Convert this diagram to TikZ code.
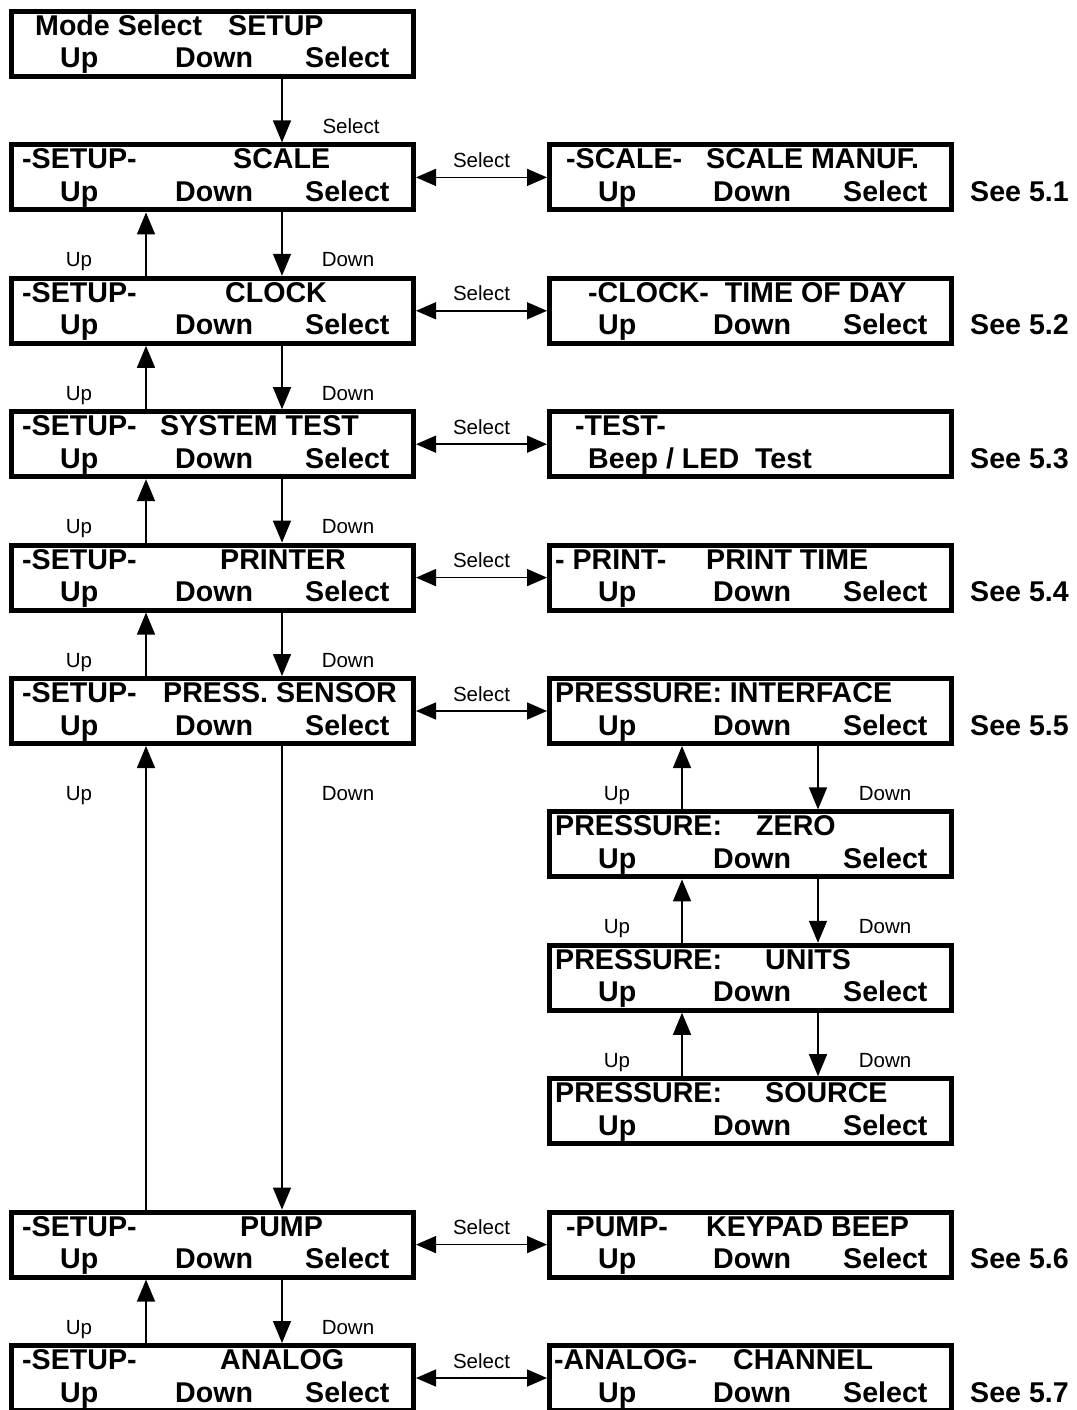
\documentclass[tikz,border=0pt]{standalone}
\usepackage{fontspec}
\setmainfont{Liberation Sans}
\usetikzlibrary{arrows.meta,calc}
\newcommand{\lcdfont}{\fontsize{28.6}{30}\selectfont\bfseries}
\newcommand{\tagfont}{\fontsize{20.5}{22}\selectfont}

\begin{document}
\begin{tikzpicture}[x=1pt, y=-1pt,
    lcd/.style={draw, line width=5pt, minimum width=402pt, minimum height=65pt, inner sep=0pt, anchor=north west},
    txt/.style={font=\lcdfont, inner sep=0pt, anchor=base west},
    tag/.style={font=\tagfont, inner sep=0pt, anchor=base},
    move/.style={line width=1.5pt, -{Triangle[length=22pt,width=18pt]}},
    swap/.style={line width=1.5pt, {Triangle[length=20pt,width=17pt]}-{Triangle[length=20pt,width=17pt]}},
]
    \useasboundingbox (0,0) rectangle (1076,1410);
    % Left column
    \foreach \n/\k in {mode/0,scale/1,clock/2,test/3,printer/4,press/5,pump/9,analog/10}
        \node[lcd] (\n) at (9,{9+133.4*\k}) {};
    % Right column
    \foreach \n/\k in {manuf/1,tod/2,beep/3,ptime/4,iface/5,zero/6,units/7,source/8,keypad/9,channel/10}
        \node[lcd] (\n) at (547,{9+133.4*\k}) {};
    % Key lines
    \foreach \n in {mode,scale,clock,test,printer,press,pump,analog,manuf,tod,ptime,iface,zero,units,source,keypad,channel} {
        \node[txt] (\n-up) at ($(\n.north west)+(51,59)$) {Up};
        \node[txt] (\n-dn) at ($(\n.north west)+(166,59)$) {Down};
        \node[txt] (\n-sel) at ($(\n.north west)+(296,59)$) {Select};
    }
    % Title lines, left
    \node[txt] (mode-a) at ($(mode.north west)+(26,26.5)$) {Mode Select};
    \node[txt] (mode-b) at ($(mode.north west)+(219,26.5)$) {SETUP};
    \foreach \n in {scale,clock,test,printer,press,pump,analog}
        \node[txt] (\n-a) at ($(\n.north west)+(13,26.5)$) {-SETUP-};
    \node[txt] (scale-b) at ($(scale.north west)+(224,26.5)$) {SCALE};
    \node[txt] (clock-b) at ($(clock.north west)+(216,26.5)$) {CLOCK};
    \node[txt] (test-b) at ($(test.north west)+(151,26.5)$) {SYSTEM TEST};
    \node[txt] (printer-b) at ($(printer.north west)+(211,26.5)$) {PRINTER};
    \node[txt] (press-b) at ($(press.north west)+(154,26.5)$) {PRESS. SENSOR};
    \node[txt] (pump-b) at ($(pump.north west)+(231,26.5)$) {PUMP};
    \node[txt] (analog-b) at ($(analog.north west)+(211,26.5)$) {ANALOG};
    % Title lines, right
    \node[txt] (manuf-a) at ($(manuf.north west)+(19,26.5)$) {-SCALE-};
    \node[txt] (manuf-b) at ($(manuf.north west)+(159,26.5)$) {SCALE MANUF.};
    \node[txt] (tod-a) at ($(tod.north west)+(41,26.5)$) {-CLOCK-~ TIME OF DAY};
    \node[txt] (beep-a) at ($(beep.north west)+(28,26.5)$) {-TEST-};
    \node[txt] (beep-b) at ($(beep.north west)+(41,59)$) {Beep / LED~ Test};
    \node[txt] (ptime-a) at ($(ptime.north west)+(8,26.5)$) {- PRINT-};
    \node[txt] (ptime-b) at ($(ptime.north west)+(159,26.5)$) {PRINT TIME};
    \node[txt] (iface-a) at ($(iface.north west)+(8,26.5)$) {PRESSURE: INTERFACE};
    \foreach \n in {zero,units,source}
        \node[txt] (\n-a) at ($(\n.north west)+(8,26.5)$) {PRESSURE:};
    \node[txt] (zero-b) at ($(zero.north west)+(209,26.5)$) {ZERO};
    \node[txt] (units-b) at ($(units.north west)+(218,26.5)$) {UNITS};
    \node[txt] (source-b) at ($(source.north west)+(218,26.5)$) {SOURCE};
    \node[txt] (keypad-a) at ($(keypad.north west)+(19,26.5)$) {-PUMP-};
    \node[txt] (keypad-b) at ($(keypad.north west)+(159,26.5)$) {KEYPAD BEEP};
    \node[txt] (channel-a) at ($(channel.north west)+(7,26.5)$) {-ANALOG-};
    \node[txt] (channel-b) at ($(channel.north west)+(186,26.5)$) {CHANNEL};
    % See references
    \foreach \n/\s in {manuf/1,tod/2,beep/3,ptime/4,iface/5,keypad/6,channel/7}
        \node[txt] (see\s) at ($(\n.north east)+(16,59)$) {See 5.\s};
    % Arrow columns
    \coordinate (upL) at (146,0);
    \coordinate (dnL) at (282,0);
    \coordinate (upR) at (682,0);
    \coordinate (dnR) at (818,0);
    \draw[move] (mode.south -| dnL) -- (scale.north -| dnL);
    \node[tag] (mode-go) at ($(mode.south -| dnL)+(69,54)$) {Select};
    \foreach \a/\b in {scale/clock,clock/test,test/printer,printer/press,press/pump,pump/analog} {
        \draw[move] (\b.north -| upL) -- (\a.south -| upL);
        \draw[move] (\a.south -| dnL) -- (\b.north -| dnL);
        \node[tag] (\a-uptag) at ($(\a.south -| upL)+(-67,54.4)$) {Up};
        \node[tag] (\a-dntag) at ($(\a.south -| dnL)+(66,54.4)$) {Down};
    }
    \foreach \a/\b in {iface/zero,zero/units,units/source} {
        \draw[move] (\b.north -| upR) -- (\a.south -| upR);
        \draw[move] (\a.south -| dnR) -- (\b.north -| dnR);
        \node[tag] (\a-uptag) at ($(\a.south -| upR)+(-65,54.4)$) {Up};
        \node[tag] (\a-dntag) at ($(\a.south -| dnR)+(67,54.4)$) {Down};
    }
    % Select links
    \foreach \a/\b in {scale/manuf,clock/tod,test/beep,printer/ptime,press/iface,pump/keypad,analog/channel} {
        \draw[swap] (\a.east) -- (\b.west);
        \node[tag] (\a-seltag) at ($(\a.east)!0.5!(\b.west)+(0,-10)$) {Select};
    }
\end{tikzpicture}
\end{document}
